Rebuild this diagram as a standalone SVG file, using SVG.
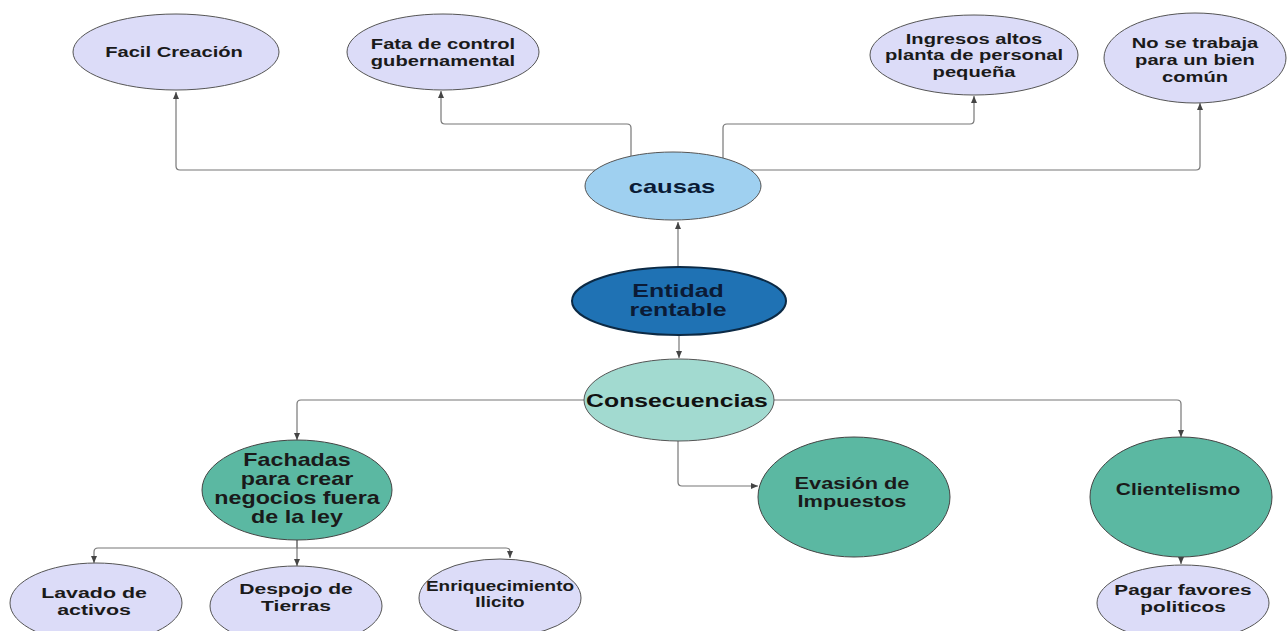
<svg xmlns="http://www.w3.org/2000/svg" width="1287" height="631" viewBox="0 0 1287 631">
<style>
.bg{fill:#ffffff}
.lav{fill:#dcdcf8;stroke:#555;stroke-width:1}
.sky{fill:#9fd0f0;stroke:#555;stroke-width:1}
.dark{fill:#1f72b4;stroke:#0c2a45;stroke-width:2}
.mint{fill:#a2dad0;stroke:#555;stroke-width:1}
.green{fill:#5bb8a2;stroke:#444;stroke-width:1}
text{font-family:"Liberation Sans",Arial,sans-serif;font-weight:bold;text-anchor:middle;fill:#1a1a1a}
.t15{font-size:15.5px}
.t16{font-size:16.5px}
.t17{font-size:17.5px}
.t18{font-size:18.5px}
.navy{fill:#0b1b36}
.con path{fill:none;stroke:#777;stroke-width:1.2}
</style>
<defs>
<marker id="ah" markerWidth="8" markerHeight="8" refX="7" refY="4" orient="auto" markerUnits="userSpaceOnUse">
<path d="M0,1 L7,4 L0,7 Z" fill="#444"/>
</marker>
</defs>
<rect class="bg" width="1287" height="631"/>
<g class="con">
<path d="M596 170 L180 170 Q176 170 176 166 L176 92" marker-end="url(#ah)"/>
<path d="M631 156 L631 128 Q631 124 627 124 L445 124 Q441 124 441 120 L441 91" marker-end="url(#ah)"/>
<path d="M723 158 L723 128 Q723 124 727 124 L970 124 Q974 124 974 120 L974 96" marker-end="url(#ah)"/>
<path d="M751 170 L1196 170 Q1200 170 1200 166 L1200 103" marker-end="url(#ah)"/>
<path d="M678 267 L678 222" marker-end="url(#ah)"/>
<path d="M679 335 L679 358" marker-end="url(#ah)"/>
<path d="M584 400 L301 400 Q297 400 297 404 L297 440" marker-end="url(#ah)"/>
<path d="M774 400 L1177 400 Q1181 400 1181 404 L1181 437" marker-end="url(#ah)"/>
<path d="M678 441 L678 482 Q678 486 682 486 L758 486" marker-end="url(#ah)"/>
<path d="M297 540 L297 548 L98 548 Q94 548 94 552 L94 563" marker-end="url(#ah)"/>
<path d="M297 540 L297 566" marker-end="url(#ah)"/>
<path d="M297 548 L506 548 Q510 548 510 552 L510 558" marker-end="url(#ah)"/>
<path d="M1181 557 L1181 564" marker-end="url(#ah)"/>
</g>
<g id="facil">
<ellipse class="lav" cx="176" cy="52" rx="103" ry="38"/>
<text class="t15" transform="translate(174,57) scale(1.3,1)">Facil Creación</text>
</g>
<g id="fata">
<ellipse class="lav" cx="443" cy="52" rx="96" ry="38"/>
<text class="t15" transform="translate(443,49) scale(1.3,1)"><tspan x="0">Fata de control</tspan><tspan x="0" dy="17">gubernamental</tspan></text>
</g>
<g id="ingresos">
<ellipse class="lav" cx="974" cy="55" rx="104" ry="40"/>
<text class="t15" transform="translate(974,44) scale(1.3,1)"><tspan x="0">Ingresos altos</tspan><tspan x="0" dy="16.5">planta de personal</tspan><tspan x="0" dy="16.5">pequeña</tspan></text>
</g>
<g id="nose">
<ellipse class="lav" cx="1195" cy="58" rx="91" ry="45"/>
<text class="t15" transform="translate(1195,48) scale(1.3,1)"><tspan x="0">No se trabaja</tspan><tspan x="0" dy="17">para un bien</tspan><tspan x="0" dy="17">común</tspan></text>
</g>
<g id="causas">
<ellipse class="sky" cx="673" cy="186" rx="88" ry="34"/>
<text class="t18 navy" transform="translate(672,193) scale(1.38,1)">causas</text>
</g>
<g id="entidad">
<ellipse class="dark" cx="679" cy="301" rx="107" ry="34"/>
<text class="t18 navy" transform="translate(678,297) scale(1.35,1)"><tspan x="0">Entidad</tspan><tspan x="0" dy="19">rentable</tspan></text>
</g>
<g id="consecuencias">
<ellipse class="mint" cx="679" cy="400" rx="95" ry="41"/>
<text class="t18" style="fill:#111" transform="translate(677,407) scale(1.34,1)">Consecuencias</text>
</g>
<g id="fachadas">
<ellipse class="green" cx="297" cy="490" rx="95" ry="50"/>
<text class="t17" transform="translate(297,466) scale(1.33,1)"><tspan x="0">Fachadas</tspan><tspan x="0" dy="19">para crear</tspan><tspan x="0" dy="19">negocios fuera</tspan><tspan x="0" dy="19">de la ley</tspan></text>
</g>
<g id="evasion">
<ellipse class="green" cx="854" cy="497" rx="96" ry="60"/>
<text class="t16" transform="translate(852,489) scale(1.32,1)"><tspan x="0">Evasión de</tspan><tspan x="0" dy="18">Impuestos</tspan></text>
</g>
<g id="clientelismo">
<ellipse class="green" cx="1181" cy="497" rx="91" ry="60"/>
<text class="t16" transform="translate(1178,495) scale(1.27,1)">Clientelismo</text>
</g>
<g id="lavado">
<ellipse class="lav" cx="96" cy="603" rx="86" ry="40"/>
<text class="t15" transform="translate(94,598) scale(1.38,1)"><tspan x="0">Lavado de</tspan><tspan x="0" dy="17">activos</tspan></text>
</g>
<g id="despojo">
<ellipse class="lav" cx="296" cy="606" rx="86" ry="40"/>
<text class="t15" transform="translate(296,594) scale(1.36,1)"><tspan x="0">Despojo de</tspan><tspan x="0" dy="17">Tierras</tspan></text>
</g>
<g id="enriquecimiento">
<ellipse class="lav" cx="500" cy="598" rx="81" ry="39"/>
<text class="t15" transform="translate(500,591) scale(1.22,1)"><tspan x="0">Enriquecimiento</tspan><tspan x="0" dy="16">Ilicito</tspan></text>
</g>
<g id="pagar">
<ellipse class="lav" cx="1183" cy="603" rx="86" ry="38"/>
<text class="t15" transform="translate(1183,595) scale(1.34,1)"><tspan x="0">Pagar favores</tspan><tspan x="0" dy="17">politicos</tspan></text>
</g>
</svg>
